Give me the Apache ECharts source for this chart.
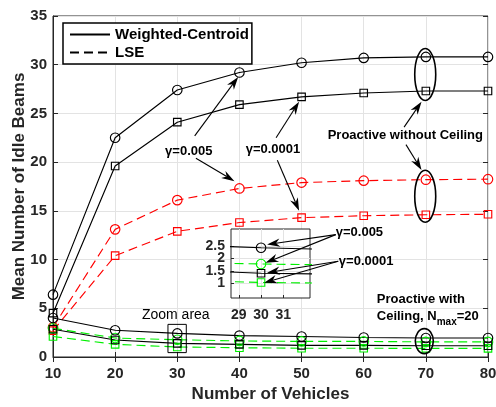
<!DOCTYPE html>
<html><head><meta charset="utf-8">
<script src="https://cdn.jsdelivr.net/npm/echarts@6/dist/echarts.min.js"></script>
<style>html,body{margin:0;padding:0;background:#fff}#c{width:496px;height:407px}</style>
</head><body><div id="c"></div>
<script>
// ---- data ----
const vehicles = [10, 20, 30, 40, 50, 60, 70, 80];
const wcNoCeil005   = [6.4, 22.5, 27.4, 29.2, 30.2, 30.7, 30.8, 30.8];
const wcNoCeil0001  = [4.5, 19.6, 24.1, 25.9, 26.7, 27.1, 27.3, 27.3];
const lseNoCeil005  = [3.05, 13.1, 16.1, 17.3, 17.9, 18.1, 18.2, 18.25];
const lseNoCeil0001 = [2.7, 10.4, 12.9, 13.8, 14.3, 14.5, 14.6, 14.65];
const wcCeil005     = [4.0, 2.75, 2.42, 2.2, 2.1, 2.0, 1.95, 1.95];
const wcCeil0001    = [2.85, 1.75, 1.4, 1.3, 1.2, 1.2, 1.15, 1.15];
const lseCeil005    = [2.95, 1.95, 1.77, 1.65, 1.6, 1.6, 1.55, 1.55];
const lseCeil0001   = [2.1, 1.3, 1.03, 0.95, 0.9, 0.9, 0.88, 0.88];
const insetXTicks = [29, 30, 31];
const insetYTicks = [1, 1.5, 2, 2.5];

const FONT = '"Liberation Sans", Arial, sans-serif';
const BLACK = '#000000', RED = '#ff0000', GREEN = '#00f000';
const DASH = [9, 5];

function pairs(ys) { return vehicles.map((x, i) => [x, ys[i]]); }

function mk(name, ys, color, dashed, symbol, gi, z) {
  return {
    type: 'line', name: name, data: pairs(ys),
    xAxisIndex: gi === 1 ? 2 : 0, yAxisIndex: gi === 1 ? 2 : 0,
    symbol: symbol, symbolSize: symbol === 'circle' ? 9.5 : 7.5,
    showSymbol: true, clip: true, z: z,
    lineStyle: { color: color, width: 1.15, type: dashed ? DASH : 'solid' },
    itemStyle: { color: 'transparent', borderColor: color, borderWidth: 1.15 },
    emphasis: { disabled: true }, animation: false
  };
}

const chart = echarts.init(document.getElementById('c'), null, { renderer: 'canvas' });

const lbl = { color: '#262626', fontFamily: FONT, fontWeight: 'bold', fontSize: 15 };
const splitL = { show: true, lineStyle: { color: '#e3e3e3', width: 1 } };

const option = {
  animation: false,
  backgroundColor: '#fff',
  grid: [
    { left: 53, right: 8, top: 16, bottom: 50, show: true, borderColor: '#262626', borderWidth: 1, z: 0,
      outerBoundsMode: 'none', containLabel: false },
    { left: 231, top: 229, width: 79, height: 69, show: true, backgroundColor: '#fff', borderColor: '#262626', borderWidth: 1, z: 3,
      outerBoundsMode: 'none', containLabel: false }
  ],
  legend: {
    data: [{ name: 'Weighted-Centroid' }, { name: 'LSE' }],
    orient: 'vertical', left: 63, top: 23,
    padding: [4, 3, 4, 6], itemGap: 3, itemWidth: 40, itemHeight: 14,
    borderColor: '#000', borderWidth: 1.5, backgroundColor: '#fff',
    itemStyle: { color: 'transparent', borderColor: 'transparent', borderWidth: 0, opacity: 0 },
    textStyle: { color: '#000', fontFamily: FONT, fontWeight: 'bold', fontSize: 15 },
    selectedMode: false, z: 10
  },
  xAxis: [
    { type: 'value', gridIndex: 0, min: 10, max: 80, interval: 10,
      name: 'Number of Vehicles', nameLocation: 'middle', nameGap: 29, nameMoveOverlap: false,
      nameTextStyle: { color: '#262626', fontFamily: FONT, fontWeight: 'bold', fontSize: 17 },
      axisLine: { show: true, lineStyle: { color: '#262626' } },
      axisTick: { inside: true, length: 5, lineStyle: { color: '#262626' } },
      axisLabel: Object.assign({ margin: 9, hideOverlap: false }, lbl), splitLine: splitL },
    { type: 'value', gridIndex: 0, position: 'top', min: 10, max: 80, interval: 10,
      axisLine: { show: false }, axisTick: { inside: true, length: 5, lineStyle: { color: '#262626' } },
      axisLabel: { show: false }, splitLine: { show: false } },
    { type: 'value', gridIndex: 1, min: 28.65, max: 32.2, z: 4,
      axisLine: { show: false },
      axisTick: { inside: true, length: 3, customValues: insetXTicks, lineStyle: { color: '#262626' } },
      axisLabel: Object.assign({ margin: 10, customValues: insetXTicks, hideOverlap: false, interval: 0,
        showMinLabel: true, showMaxLabel: true }, lbl, { fontSize: 14 }),
      splitLine: splitL }
  ],
  yAxis: [
    { type: 'value', gridIndex: 0, min: 0, max: 35, interval: 5,
      name: 'Mean Number of Idle Beams', nameLocation: 'middle', nameGap: 25, nameMoveOverlap: false,
      nameTextStyle: { color: '#262626', fontFamily: FONT, fontWeight: 'bold', fontSize: 17 },
      axisLine: { show: true, lineStyle: { color: '#262626' } },
      axisTick: { inside: true, length: 5, lineStyle: { color: '#262626' } },
      axisLabel: Object.assign({ margin: 6, hideOverlap: false }, lbl), splitLine: splitL },
    { type: 'value', gridIndex: 0, position: 'right', min: 0, max: 35, interval: 5,
      axisLine: { show: false }, axisTick: { inside: true, length: 5, lineStyle: { color: '#262626' } },
      axisLabel: { show: false }, splitLine: { show: false } },
    { type: 'value', gridIndex: 1, min: 0.41, max: 3.17, z: 4,
      axisLine: { show: false },
      axisTick: { inside: true, length: 3, customValues: insetYTicks, lineStyle: { color: '#262626' } },
      axisLabel: { show: false },
      splitLine: splitL }
  ],
  series: [
    { type: 'line', name: 'Weighted-Centroid', data: [], symbol: 'none', color: BLACK,
      lineStyle: { color: BLACK, width: 1.5, type: 'solid' } },
    { type: 'line', name: 'LSE', data: [], symbol: 'none', color: BLACK,
      lineStyle: { color: BLACK, width: 1.5, type: DASH } },
    mk('wcNoCeil005', wcNoCeil005, BLACK, false, 'circle', 0, 2),
    mk('wcNoCeil0001', wcNoCeil0001, BLACK, false, 'rect', 0, 2),
    mk('lseNoCeil005', lseNoCeil005, RED, true, 'circle', 0, 2),
    mk('lseNoCeil0001', lseNoCeil0001, RED, true, 'rect', 0, 2),
    mk('lseCeil005', lseCeil005, GREEN, true, 'circle', 0, 2),
    mk('lseCeil0001', lseCeil0001, GREEN, true, 'rect', 0, 2),
    mk('wcCeil005', wcCeil005, BLACK, false, 'circle', 0, 2),
    mk('wcCeil0001', wcCeil0001, BLACK, false, 'rect', 0, 2),
    mk('lseCeil005i', lseCeil005, GREEN, true, 'circle', 1, 5),
    mk('lseCeil0001i', lseCeil0001, GREEN, true, 'rect', 1, 5),
    mk('wcCeil005i', wcCeil005, BLACK, false, 'circle', 1, 5),
    mk('wcCeil0001i', wcCeil0001, BLACK, false, 'rect', 1, 5)
  ]
};
chart.setOption(option);

// ---- annotations (positioned in data coordinates) ----
function P(pt, gi) { return chart.convertToPixel({ gridIndex: gi || 0 }, pt); }
const G = [];
function arrow(from, to, giFrom, giTo) {
  const a = P(from, giFrom), b = P(to, giTo);
  const dx = b[0] - a[0], dy = b[1] - a[1], len = Math.hypot(dx, dy);
  const ux = dx / len, uy = dy / len, nx = -uy, ny = ux;
  const L = 13, W = 4.2, N = 9;
  const back = [b[0] - ux * L, b[1] - uy * L];
  const notch = [b[0] - ux * N, b[1] - uy * N];
  G.push({ type: 'line', z: 20, shape: { x1: a[0], y1: a[1], x2: notch[0], y2: notch[1] },
    style: { stroke: '#000', lineWidth: 1.1 } });
  G.push({ type: 'polygon', z: 20, shape: { points: [b, [back[0] + nx * W, back[1] + ny * W], notch, [back[0] - nx * W, back[1] - ny * W]] },
    style: { fill: '#000' } });
}
function text(str, pt, align, size, weight, gi, color) {
  const p = P(pt, gi);
  G.push({ type: 'text', z: 21, x: p[0], y: p[1], style: { text: str, fill: color || '#000', align: align,
    verticalAlign: 'middle', font: (weight || 'bold') + ' ' + size + 'px ' + FONT } });
}
function ellipse(c, rx, ry) {
  const p = P(c);
  G.push({ type: 'ellipse', z: 20, shape: { cx: p[0], cy: p[1], rx: rx, ry: ry }, style: { fill: 'none', stroke: '#000', lineWidth: 1.6 } });
}

// inset y tick labels (drawn from the tick list through the inset's axis)
insetYTicks.forEach(function (v) {
  const p = P([28.65, v], 1);
  G.push({ type: 'text', z: 21, x: p[0] - 6, y: p[1], style: { text: String(v), fill: '#262626', align: 'right',
    verticalAlign: 'middle', font: 'bold 14px ' + FONT } });
});

arrow([32.8, 22.7], [39.8, 28.75]);
arrow([33.0, 20.4], [39.2, 18.05]);
arrow([45.9, 22.5], [49.6, 26.2]);
arrow([46.1, 20.2], [49.6, 15.0]);
arrow([66.5, 23.6], [69.3, 26.2]);
arrow([66.8, 21.8], [69.3, 19.2]);
arrow([55.5, 12.56], [30.27, 2.55], 0, 1);
arrow([55.5, 12.56], [30.2, 1.82], 0, 1);
arrow([55.9, 9.83], [30.27, 1.42], 0, 1);
arrow([55.9, 9.83], [30.14, 1.02], 0, 1);

ellipse([69.9, 29.0], 10.5, 26);
ellipse([69.9, 16.5], 10.5, 26);
ellipse([69.75, 1.63], 9, 12.5);

const r1 = P([28.5, 3.35]), r2 = P([31.45, 0.45]);
G.push({ type: 'rect', z: 20, shape: { x: r1[0], y: r1[1], width: r2[0] - r1[0], height: r2[1] - r1[1] }, style: { fill: 'none', stroke: '#000', lineWidth: 1 } });

text('\u03b3=0.005', [31.85, 21.05], 'center', 13);
text('\u03b3=0.0001', [45.4, 21.26], 'center', 13);
text('Proactive without Ceiling', [66.7, 22.7], 'center', 13);
text('\u03b3=0.005', [55.5, 12.76], 'left', 13);
text('\u03b3=0.0001', [56.0, 9.83], 'left', 13);
text('Proactive with', [62.1, 5.9], 'left', 13);
text('Zoom area', [29.76, 4.27], 'center', 14, 'normal');
(function () {
  const p = P([62.1, 4.17]);
  G.push({ type: 'text', z: 21, x: p[0], y: p[1], style: {
    text: '{a|Ceiling, N}{s|max}{a|=20}', align: 'left', verticalAlign: 'middle',
    rich: {
      a: { font: 'bold 13px ' + FONT, fill: '#000', lineHeight: 22, verticalAlign: 'middle' },
      s: { font: 'bold 10px ' + FONT, fill: '#000', lineHeight: 22, verticalAlign: 'bottom' }
    } } });
})();

chart.setOption({ graphic: G });
</script></body></html>
